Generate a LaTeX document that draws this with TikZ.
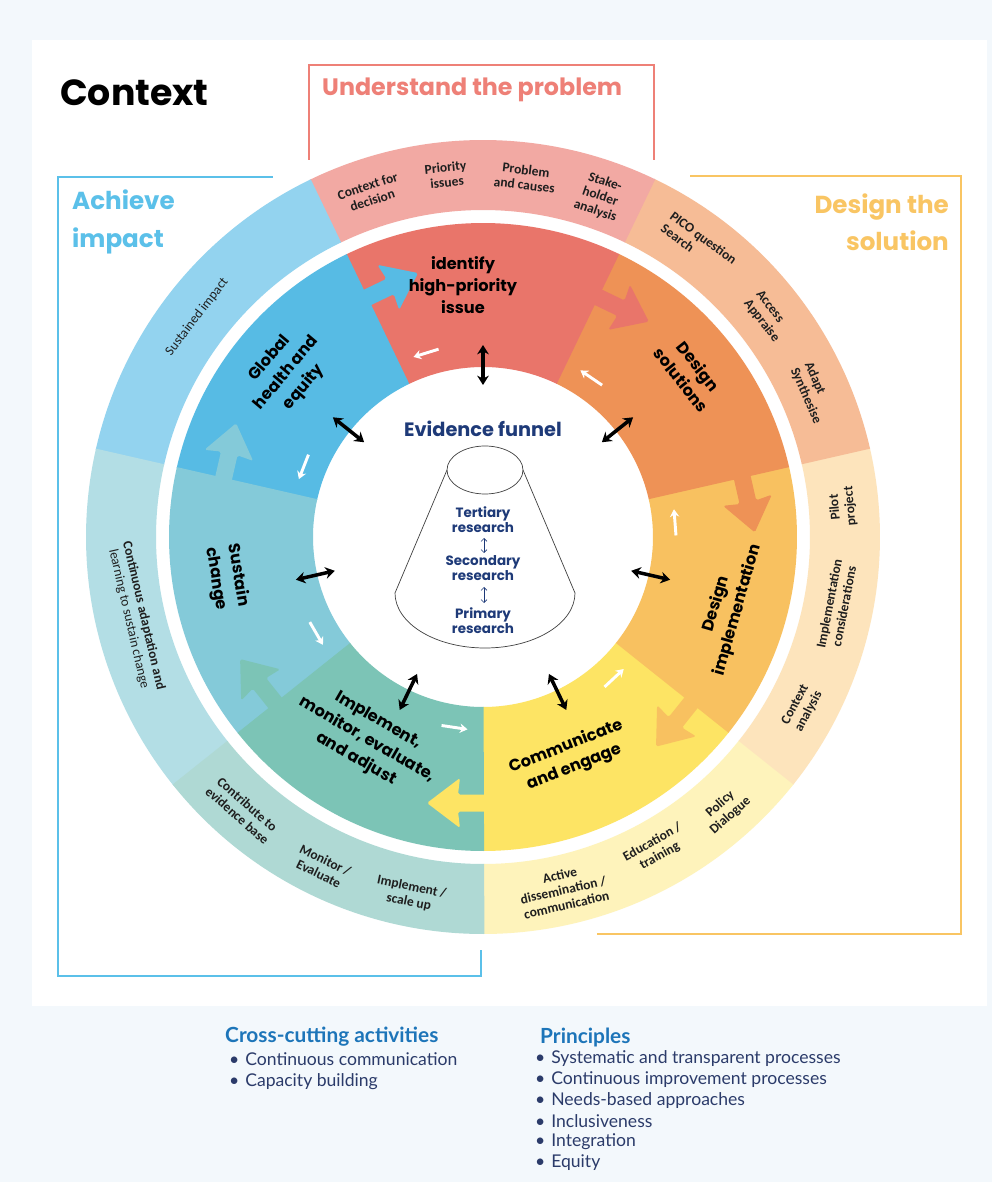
\documentclass[tikz,border=0pt]{standalone}
\usepackage{fontspec}
\setmainfont{Poppins}
\newfontfamily\lblfont{Carlito}
\newfontfamily\listfont{Lato}
\usetikzlibrary{arrows.meta}

\definecolor{pagebg}{HTML}{F3F8FC}
\definecolor{probIn}{HTML}{E9756A}
\definecolor{solIn}{HTML}{EE9256}
\definecolor{implIn}{HTML}{F8C160}
\definecolor{commIn}{HTML}{FDE464}
\definecolor{monIn}{HTML}{7CC4B6}
\definecolor{sustIn}{HTML}{84CAD9}
\definecolor{globIn}{HTML}{57BBE4}
\definecolor{probOut}{HTML}{F2A9A3}
\definecolor{solOut}{HTML}{F6BC96}
\definecolor{implOut}{HTML}{FDE4BC}
\definecolor{commOut}{HTML}{FEF3BB}
\definecolor{monOut}{HTML}{AFD9D4}
\definecolor{sustOut}{HTML}{B3DEE5}
\definecolor{globOut}{HTML}{93D3EF}
\definecolor{frameRed}{HTML}{EE8077}
\definecolor{frameGold}{HTML}{F9C563}
\definecolor{frameBlue}{HTML}{5BC0E9}
\definecolor{funnelNavy}{HTML}{1E3A78}
\definecolor{listBlue}{HTML}{1D75B9}
\definecolor{listNavy}{HTML}{2B3B6A}

\tikzset{
  seglabel/.style={font=\bfseries\fontsize{13.8}{19}\selectfont, align=center, text=black, inner sep=0pt},
  ringlabel/.style={font=\lblfont\bfseries\fontsize{11.5}{13}\selectfont, align=center, text=black!88, inner sep=0pt},
  heading/.style={font=\bfseries\fontsize{21}{32}\selectfont, inner sep=0pt},
  linkarrow/.style={line width=3pt, {Stealth[length=8pt,width=10pt]}-{Stealth[length=8pt,width=10pt]}},
  backarrow/.style={white, line width=2.5pt, -{Stealth[length=6.5pt,width=8pt]}},
  funnelline/.style={draw=black!75, line width=0.6pt},
  funneltext/.style={font=\bfseries\fontsize{11.5}{10.5}\selectfont, text=funnelNavy, align=center, inner sep=0pt},
  listhead/.style={font=\listfont\bfseries\fontsize{17.8}{20}\selectfont, text=listBlue, anchor=west, inner sep=0pt},
  listitem/.style={font=\listfont\fontsize{15}{17}\selectfont, text=listNavy, anchor=west, inner sep=0pt}
}

\begin{document}
\begin{tikzpicture}[x=0.03cm, y=0.03cm]
\fill[pagebg] (-483,-645) rectangle (509,537);
\fill[white] (-451,-469) rectangle (504,497);

\foreach \inner/\outer [count=\k from 0] in {commIn/commOut, implIn/implOut, solIn/solOut, probIn/probOut, globIn/globOut, sustIn/sustOut, monIn/monOut}{
  \pgfmathsetmacro\a{-90+\k*360/7}
  \pgfmathsetmacro\b{\a+360/7+0.2}
  \fill[\inner] (\a:170) arc[start angle=\a, end angle=\b, radius=170] -- (\b:314) arc[start angle=\b, end angle=\a, radius=314] -- cycle;
  \fill[\outer] (\a:327) arc[start angle=\a, end angle=\b, radius=327] -- (\b:397) arc[start angle=\b, end angle=\a, radius=397] -- cycle;
}

\foreach \col [count=\k from 0] in {commIn, implIn, solIn, probIn, globIn, sustIn, monIn}{
  \pgfmathsetmacro\a{-90+\k*360/7}
  \fill[\col, rounded corners=1.5pt, shift={(\a:266)}, rotate=\a-90] (-6,-8.5) -- (25,-8.5) -- (23,-25) -- (56,0) -- (23,25) -- (25,8.5) -- (-6,8.5) -- cycle;
}

\foreach \k in {0,...,6}{
  \pgfmathsetmacro\m{-90+(\k+0.5)*360/7}
  \draw[linkarrow] (\m:152) -- (\m:192);
  \pgfmathsetmacro\ws{-90+(\k+1)*360/7-12.4}
  \pgfmathsetmacro\we{\ws+7.8}
  \draw[backarrow] (\ws:193) -- (\we:193);
}

\node[seglabel] (identify) at (-20,252) {identify\\high-priority\\issue};
\node[seglabel, rotate=-51.6] (designsol) at (207,164) {Design\\solutions};
\node[seglabel, rotate=74] (designimp) at (244,-70) {Design\\implementation};
\node[seglabel, rotate=21.6] (commeng) at (87,-220) {Communicate\\and engage};
\node[seglabel, rotate=-30] (implmon) at (-116,-203) {Implement,\\monitor, evaluate,\\and adjust};
\node[seglabel, rotate=-81] (sustain) at (-256,-40) {Sustain\\change};
\node[seglabel, rotate=50] (globhealth) at (-196,164) {Global\\health and\\equity};

\node[ringlabel, rotate=18.2] (ctxdec) at (108.2:362) {Context for\\decision};
\node[ringlabel, rotate=5.8] (prio) at (95.8:364) {Priority\\issues};
\node[ringlabel, rotate=-6.7] (probcause) at (83.3:362) {Problem\\and causes};
\node[ringlabel, rotate=-19] (stake) at (71:360) {Stake-\\holder\\analysis};
\node[ringlabel, rotate=-36.4, align=left] (pico) at (53.6:364) {PICO question\\Search};
\node[ringlabel, rotate=-52.2, align=left] (access) at (37.8:360) {Access\\Appraise};
\node[ringlabel, rotate=-66.4, align=left] (adapt) at (23.6:360) {Adapt\\Synthesise};
\node[ringlabel, rotate=94.8] (pilot) at (4.8:361) {Pilot\\project};
\node[ringlabel, rotate=79.1] (implcons) at (-10.9:360) {Implementation\\considerations};
\node[ringlabel, rotate=61.8] (ctxan) at (-28.2:362) {Context\\analysis};
\node[ringlabel, rotate=41.6] (policy) at (-48.4:365) {Policy\\Dialogue};
\node[ringlabel, rotate=29] (edu) at (-61:357) {Education /\\training};
\node[ringlabel, rotate=12.8] (active) at (-77.2:362) {Active\\dissemination /\\communication};
\node[ringlabel, rotate=-11.5] (scaleup) at (258.5:365) {Implement /\\scale up};
\node[ringlabel, rotate=-26] (moneval) at (244:367) {Monitor /\\Evaluate};
\node[ringlabel, rotate=-41.4] (contrib) at (228.6:364) {Contribute to\\evidence base};
\node[ringlabel, rotate=-77] (contadapt) at (193:356) {Continuous adaptation and\\\mdseries learning to sustain change};
\node[ringlabel, rotate=52.4, font=\lblfont\fontsize{11.5}{13}\selectfont] (susimpact) at (142.4:361) {Sustained impact};

\node[font=\bfseries\fontsize{16.5}{20}\selectfont, text=funnelNavy, inner sep=0pt] (evfunnel) at (0,108) {Evidence funnel};
\draw[funnelline] (-36,67) -- (-88,-56) arc[start angle=180, end angle=360, x radius=90, y radius=55] -- (40,67);
\draw[funnelline] (2,67) ellipse[x radius=38, y radius=24];
\node[funneltext] (tertiary) at (0,17) {Tertiary\\research};
\node[funneltext] (secondary) at (0,-31) {Secondary\\research};
\node[funneltext] (primary) at (0,-84) {Primary\\research};
\draw[funnelNavy, line width=0.6pt, {Straight Barb[length=2.5pt]}-{Straight Barb[length=2.5pt]}] (1,-1) -- (1,-16);
\draw[funnelNavy, line width=0.6pt, {Straight Barb[length=2.5pt]}-{Straight Barb[length=2.5pt]}] (1,-50) -- (1,-66);

\draw[frameRed, line width=1.2pt] (-174,377) |- (171,472) -- (171,377);
\draw[frameGold, line width=1.4pt] (207,361) -| (478,-397) -- (114,-397);
\draw[frameBlue, line width=1.4pt] (-210,360) -| (-425,-439) -| (-2,-413);

\node[font=\bfseries\fontsize{31}{36}\selectfont, anchor=west, inner sep=0pt] (context) at (-423,444) {Context};
\node[heading, text=frameRed, anchor=west, font=\bfseries\fontsize{20.3}{24}\selectfont] (understand) at (-161,447) {Understand the problem};
\node[heading, text=frameGold, anchor=east, align=right] (designsolution) at (466,315) {Design the\\solution};
\node[heading, text=frameBlue, anchor=west, align=left] (achieve) at (-411,315) {Achieve\\impact};

\node[listhead] (crosscut) at (-258,-500) {Cross-cutting activities};
\foreach \t [count=\i] in {Continuous communication, Capacity building}
  \node[listitem] (crosscut-\i) at (-254,-499-23*\i) {\textbullet\hspace{5pt}\t};
\node[listhead] (principles) at (57,-500) {Principles};
\foreach \t [count=\i] in {Systematic and transparent processes, Continuous improvement processes, Needs-based approaches, Inclusiveness, Integration, Equity}
  \node[listitem] (principles-\i) at (52,-501-20.8*\i) {\textbullet\hspace{5pt}\t};
\end{tikzpicture}
\end{document}
